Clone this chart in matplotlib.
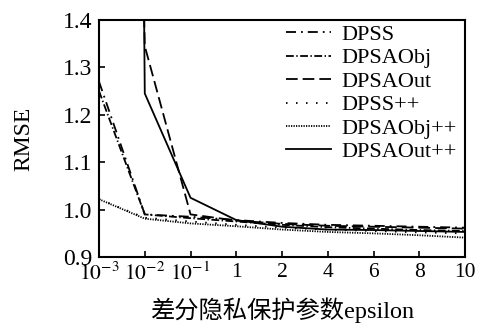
import matplotlib
matplotlib.use("Agg")
import matplotlib.pyplot as plt

x_labels = [r"$10^{-3}$", r"$10^{-2}$", r"$10^{-1}$", "1", "2", "4", "6", "8", "10"]
y_ticks = [0.9, 1.0, 1.1, 1.2, 1.3, 1.4]
dpss = [1.27, 0.99, 0.985, 0.978, 0.972, 0.968, 0.966, 0.964, 0.962]
dpsaobj = [1.25, 0.99, 0.982, 0.975, 0.968, 0.963, 0.960, 0.957, 0.955]
dpsaout = [6.0, 1.345, 0.990, 0.977, 0.970, 0.966, 0.964, 0.962, 0.960]
dpss_pp = [1.022, 0.983, 0.975, 0.968, 0.962, 0.958, 0.955, 0.952, 0.950]
dpsaobj_pp = [1.022, 0.981, 0.971, 0.965, 0.958, 0.953, 0.950, 0.946, 0.941]
dpsaout_pp = [12.0, 1.245, 1.025, 0.978, 0.964, 0.958, 0.957, 0.955, 0.953]

plt.rcParams['font.family'] = ['Liberation Serif', 'Noto Sans CJK SC']
plt.rcParams['mathtext.fontset'] = 'stix'
plt.rcParams['lines.scale_dashes'] = False

fig = plt.figure(figsize=(4.83, 3.33), dpi=100)
ax = fig.add_axes([0.205, 0.228, 0.758, 0.712])

xs = list(range(len(x_labels)))
lw = 1.3
styles = [
    ("DPSS", dpss, (0, (7.2, 3.6, 1.3, 3.6))),
    ("DPSAObj", dpsaobj, (0, (5.6, 1.8, 1.0, 1.8))),
    ("DPSAOut", dpsaout, (0, (8.4, 3.6))),
    ("DPSS++", dpss_pp, (0, (1.1, 6.1))),
    ("DPSAObj++", dpsaobj_pp, (0, (0.9, 0.9))),
    ("DPSAOut++", dpsaout_pp, "-"),
]
for name, ys, ls in styles:
    ax.plot(xs, ys, color='black', linewidth=lw, linestyle=ls, label=name)

ax.set_xlim(0, 8)
ax.set_ylim(0.9, 1.4)
ax.set_xticks(xs)
ax.set_xticklabels(x_labels)
ax.set_yticks(y_ticks)
ax.set_yticklabels([f"{v:.1f}" for v in y_ticks])
ax.tick_params(direction='in', length=4, width=1.2, top=False, right=False)
ax.tick_params(axis='x', labelsize=15.5, pad=4)
ax.tick_params(axis='y', labelsize=17, pad=5)
for s in ax.spines.values():
    s.set_linewidth(1.5)

ax.set_ylabel("RMSE", fontsize=17, labelpad=20)
ax.set_xlabel("差分隐私保护参数epsilon", fontsize=17.5, labelpad=9)

leg = ax.legend(loc='upper right', frameon=False, fontsize=16, handlelength=2.0,
                labelspacing=0.13, handletextpad=0.5, borderaxespad=0.0,
                borderpad=0.2, bbox_to_anchor=(0.99, 1.0))

fig.savefig("out.png", dpi=100)
